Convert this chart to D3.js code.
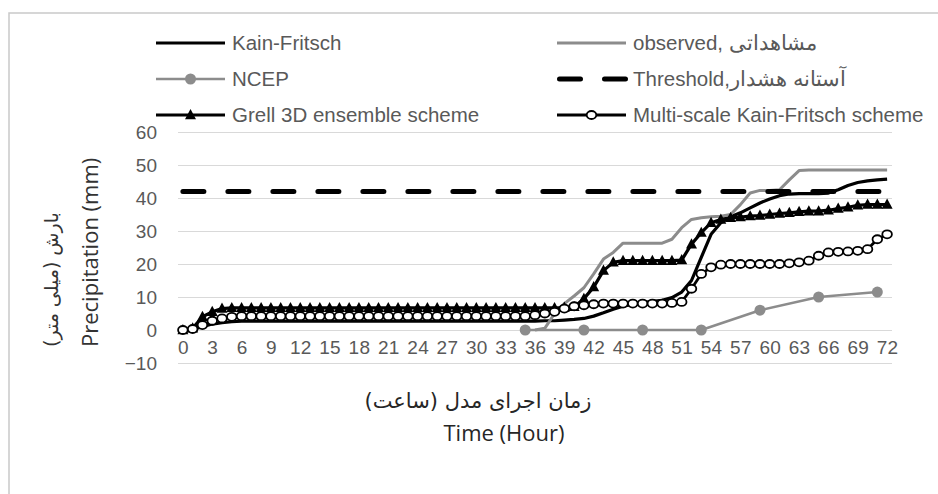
<!DOCTYPE html>
<html>
<head>
<meta charset="utf-8">
<script src="https://cdn.jsdelivr.net/npm/d3@7"></script>
<style>
  body { margin: 0; background: #fff; }
  svg { display: block; }
</style>
</head>
<body>
<script>
// chart data
const hours = d3.range(0, 73);
const xTickHours = [0, 3, 6, 9, 12, 15, 18, 21, 24, 27, 30, 33, 36, 39, 42, 45, 48, 51, 54, 57, 60, 63, 66, 69, 72];
const yTicks = [-10, 0, 10, 20, 30, 40, 50, 60];

const kainFritsch = [
  0, 0.2, 1, 1.8, 2.2, 2.5, 2.7, 2.7, 2.7, 2.7, 2.7, 2.7,
  2.7, 2.7, 2.7, 2.7, 2.7, 2.7, 2.7, 2.7, 2.7, 2.7, 2.7, 2.7,
  2.7, 2.7, 2.7, 2.7, 2.7, 2.7, 2.7, 2.7, 2.7, 2.7, 2.7, 2.7,
  2.7, 2.8, 2.8, 3, 3.2, 3.5, 4.2, 5.2, 6.3, 7.2, 7.8, 8.3,
  8.7, 9, 9.8, 11.5, 15, 22, 29, 32.5, 34.3, 35.5, 37, 38.5,
  39.7, 40.7, 41.2, 41.3, 41.3, 41.3, 41.5, 42.5, 43.8, 44.7, 45.2, 45.5, 45.7
];

const observed = [
  null, null, null, null, null, null, null, null, null, null, null, null,
  null, null, null, null, null, null, null, null, null, null, null, null,
  null, null, null, null, null, null, null, null, null, null, null, null,
  0, 0.5, 5, 8, 10.3, 12.8, 17, 21.5, 23.5, 26.3, 26.3, 26.3,
  26.3, 26.3, 27.5, 31, 33.5, 34, 34.3, 34.5, 35, 38, 41.5, 42.3,
  42.3, 42.5, 45.5, 48.3, 48.5, 48.5, 48.5, 48.5, 48.5, 48.5, 48.5, 48.5, 48.5
];

// NCEP only has 6-hourly values
const ncep = [
  null, null, null, null, null, null, null, null, null, null, null, null,
  null, null, null, null, null, null, null, null, null, null, null, null,
  null, null, null, null, null, null, null, null, null, null, null, 0,
  null, null, null, null, null, 0, null, null, null, null, null, 0,
  null, null, null, null, null, 0, null, null, null, null, null, 6,
  null, null, null, null, null, 10, null, null, null, null, null, 11.5, null
];

const threshold = hours.map(() => 42);

const grell = [
  0, 0.5, 4, 5.5, 6.5, 6.7, 6.7, 6.7, 6.7, 6.7, 6.7, 6.7,
  6.7, 6.7, 6.7, 6.7, 6.7, 6.7, 6.7, 6.7, 6.7, 6.7, 6.7, 6.7,
  6.7, 6.7, 6.7, 6.7, 6.7, 6.7, 6.7, 6.7, 6.7, 6.7, 6.7, 6.7,
  6.7, 6.7, 6.7, 6.8, 7, 9.5, 13, 18, 20.5, 21, 21, 21,
  21, 21, 21, 21.2, 26, 29.5, 32.5, 33.5, 34, 34.2, 34.5, 34.7,
  35, 35.3, 35.5, 35.8, 36, 36, 36.3, 36.8, 37.2, 37.8, 38, 38, 38
];

const multiScaleKF = [
  0, 0.3, 1.5, 2.8, 3.5, 4, 4.2, 4.2, 4.2, 4.2, 4.2, 4.2,
  4.2, 4.2, 4.2, 4.2, 4.2, 4.2, 4.2, 4.2, 4.2, 4.2, 4.2, 4.2,
  4.2, 4.2, 4.2, 4.2, 4.2, 4.2, 4.2, 4.2, 4.2, 4.2, 4.2, 4.2,
  4.5, 5, 5.5, 6.5, 7.2, 7.5, 7.8, 8, 8, 8, 8, 8,
  8, 8, 8.2, 8.5, 12.5, 17, 19, 19.8, 20, 20, 20, 20,
  20, 20, 20.2, 20.5, 21, 22.5, 23.5, 23.7, 23.8, 24, 24.5, 27.5, 29
];

const seriesNames = ['Kain-Fritsch', 'observed, مشاهداتی', 'NCEP', 'Threshold,آستانه هشدار',
  'Grell 3D ensemble scheme', 'Multi-scale Kain-Fritsch scheme'];

const GRAY = '#8c8c8c';
const series = [
  { name: seriesNames[0], values: kainFritsch, color: '#000', width: 3.2 },
  { name: seriesNames[1], values: observed, color: GRAY, width: 3 },
  { name: seriesNames[2], values: ncep, color: GRAY, width: 2.5, marker: 'dot' },
  { name: seriesNames[3], values: threshold, color: '#000', width: 5, dash: '21 24' },
  { name: seriesNames[4], values: grell, color: '#000', width: 3.2, marker: 'triangle' },
  { name: seriesNames[5], values: multiScaleKF, color: '#000', width: 2.8, marker: 'circle' }
];

const W = 938, H = 494;
const plot = { left: 178, right: 892, top: 132, bottom: 363 };

const svg = d3.select('body').append('svg')
  .attr('width', W)
  .attr('height', H);

// outer frame (only top and left edges show in the picture)
svg.append('path')
  .attr('d', `M9,${H} V13 H${W}`)
  .attr('fill', 'none')
  .attr('stroke', '#c9c9c9')
  .attr('stroke-width', 1.5);

const x = d3.scalePoint()
  .domain(hours)
  .range([plot.left, plot.right])
  .padding(0.5);

const y = d3.scaleLinear()
  .domain([-10, 60])
  .range([plot.bottom, plot.top]);

const TICK_FONT = '"Liberation Sans", Arial, sans-serif';
const TITLE_FONT = '"Open Sans", "DejaVu Sans", sans-serif';
const FA_FONT = '"DejaVu Sans", sans-serif';

// gridlines
const yAxis = d3.axisLeft(y)
  .tickValues(yTicks)
  .tickSize(-(plot.right - plot.left))
  .tickPadding(21);

const yAxisGroup = svg.append('g')
  .attr('transform', `translate(${plot.left},0)`)
  .call(yAxis);
yAxisGroup.select('.domain').remove();
yAxisGroup.selectAll('.tick line')
  .attr('stroke', '#d9d9d9')
  .attr('stroke-width', 1);
yAxisGroup.selectAll('.tick text')
  .attr('fill', '#595959')
  .style('font-family', TICK_FONT)
  .style('font-size', '19px');

// category labels sit just below the zero line
const xAxis = d3.axisBottom(x)
  .tickValues(xTickHours)
  .tickSize(0)
  .tickPadding(0);

const xAxisGroup = svg.append('g')
  .attr('transform', `translate(0,${y(0)})`)
  .call(xAxis);
xAxisGroup.select('.domain').remove();
xAxisGroup.selectAll('.tick text')
  .attr('y', 24)
  .attr('dy', 0)
  .attr('fill', '#595959')
  .style('font-family', TICK_FONT)
  .style('font-size', '19px')
  .style('letter-spacing', '0.3px')
  .attr('text-anchor', 'middle');

// series lines
const line = d3.line()
  .defined(d => d.v !== null)
  .x(d => x(d.h))
  .y(d => y(d.v));

// excel style triangle: a bit wider than tall
const trianglePath = 'M0,-6 L5.5,4.2 L-5.5,4.2 Z';

series.forEach(s => {
  const pts = hours.map((h, i) => ({ h: h, v: s.values[i] }));
  const valid = pts.filter(d => d.v !== null);
  const g = svg.append('g');

  g.append('path')
    .datum(s.marker === 'dot' ? valid : pts)
    .attr('d', line)
    .attr('fill', 'none')
    .attr('stroke', s.color)
    .attr('stroke-width', s.width)
    .attr('stroke-linejoin', 'round')
    .attr('stroke-linecap', s.dash ? 'round' : 'butt')
    .attr('stroke-dasharray', s.dash || null);

  if (s.marker === 'dot') {
    g.selectAll('circle').data(valid).enter().append('circle')
      .attr('cx', d => x(d.h))
      .attr('cy', d => y(d.v))
      .attr('r', 5.5)
      .attr('fill', GRAY);
  } else if (s.marker === 'triangle') {
    g.selectAll('path.mk').data(valid).enter().append('path')
      .attr('class', 'mk')
      .attr('d', trianglePath)
      .attr('transform', d => `translate(${x(d.h)},${y(d.v)})`)
      .attr('fill', '#000');
  } else if (s.marker === 'circle') {
    g.selectAll('ellipse').data(valid).enter().append('ellipse')
      .attr('cx', d => x(d.h))
      .attr('cy', d => y(d.v))
      .attr('rx', 4.8)
      .attr('ry', 4)
      .attr('fill', '#fff')
      .attr('stroke', '#000')
      .attr('stroke-width', 1.8);
  }
});

// legend: two columns, three rows
const legendCols = [156, 557];
const legendRows = [43, 79, 115];
const legendLen = 69;

series.forEach((s, i) => {
  const lx = legendCols[i % 2];
  const ly = legendRows[Math.floor(i / 2)];
  const g = svg.append('g').attr('transform', `translate(${lx},${ly})`);

  g.append('line')
    .attr('x1', s.dash ? 2.5 : 0)
    .attr('x2', legendLen)
    .attr('stroke', s.color)
    .attr('stroke-width', s.width)
    .attr('stroke-linecap', s.dash ? 'round' : 'butt')
    .attr('stroke-dasharray', s.dash || null);

  if (s.marker === 'dot') {
    g.append('circle').attr('cx', legendLen / 2).attr('r', 5.5).attr('fill', GRAY);
  } else if (s.marker === 'triangle') {
    g.append('path').attr('d', trianglePath)
      .attr('transform', `translate(${legendLen / 2},0)`).attr('fill', '#000');
  } else if (s.marker === 'circle') {
    g.append('ellipse').attr('cx', legendLen / 2).attr('rx', 4.8).attr('ry', 4)
      .attr('fill', '#fff').attr('stroke', '#000').attr('stroke-width', 1.8);
  }

  g.append('text')
    .attr('x', legendLen + 7)
    .attr('y', 0)
    .attr('dy', '0.35em')
    .attr('fill', '#595959')
    .style('font-family', TICK_FONT)
    .style('font-size', '20.5px')
    .text(s.name);
});

// axis titles
svg.append('text')
  .attr('transform', 'translate(98,347) rotate(-90)')
  .attr('text-anchor', 'start')
  .attr('fill', '#333')
  .style('font-family', TITLE_FONT)
  .style('font-size', '22px')
  .text('Precipitation (mm)');

svg.append('text')
  .attr('transform', 'translate(58,347) rotate(-90)')
  .attr('direction', 'rtl')
  .attr('text-anchor', 'end')
  .attr('fill', '#333')
  .style('font-family', FA_FONT)
  .style('font-size', '19px')
  .text('بارش (میلی متر)');

svg.append('text')
  .attr('x', 478)
  .attr('y', 408)
  .attr('direction', 'rtl')
  .attr('text-anchor', 'middle')
  .attr('fill', '#262626')
  .style('font-family', FA_FONT)
  .style('font-size', '21px')
  .text('زمان اجرای مدل (ساعت)');

svg.append('text')
  .attr('x', 504)
  .attr('y', 441)
  .attr('text-anchor', 'middle')
  .attr('fill', '#262626')
  .style('font-family', TITLE_FONT)
  .style('font-size', '22px')
  .text('Time (Hour)');
</script>
</body>
</html>
